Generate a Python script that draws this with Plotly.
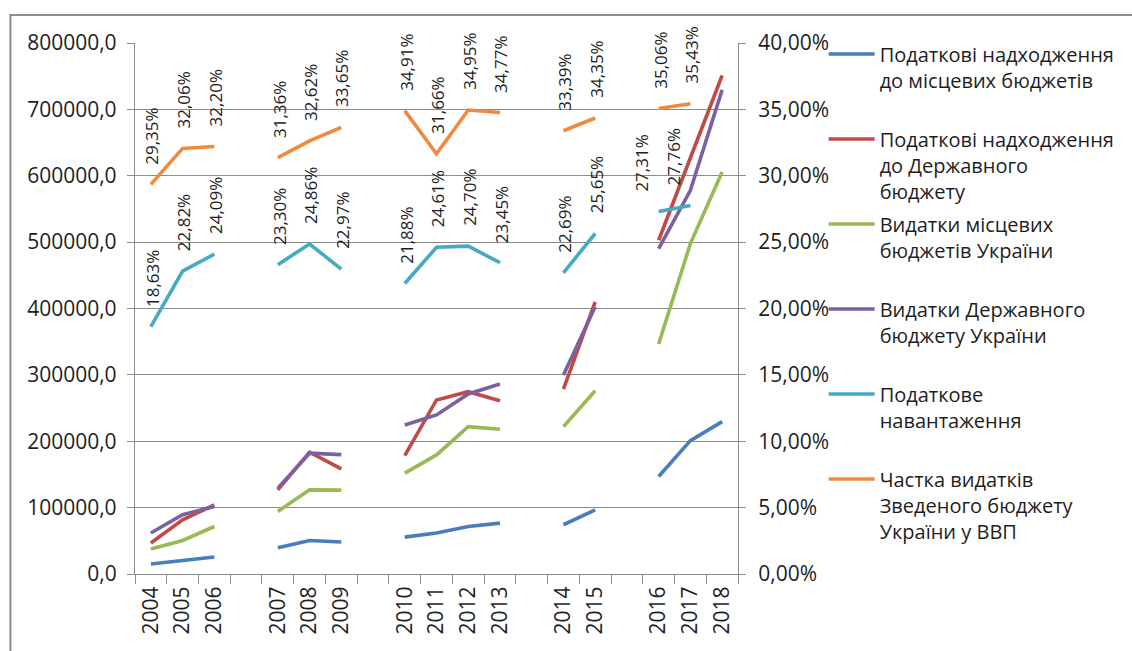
import plotly.graph_objects as go

# Year labels along the x axis; empty slots separate the periods
years = ["2004", "2005", "2006", "", "2007", "2008", "2009", "",
         "2010", "2011", "2012", "2013", "", "2014", "2015", "",
         "2016", "2017", "2018"]

# Left axis series (млн грн)
tax_local = [15000, 20400, 25600, None, 39600, 50500, 48100, None,
             55600, 61700, 71600, 76700, None, 74200, 96700, None,
             146800, 201000, 229500]
tax_state = [46600, 81700, 104200, None, 126800, 183500, 158400, None,
             178400, 262200, 274700, 261100, None, 278700, 410000, None,
             502800, 627000, 751000]
exp_local = [37600, 50500, 71600, None, 94200, 126800, 126300, None,
             151900, 179400, 222000, 218100, None, 222000, 276100, None,
             346400, 497800, 605500]
exp_state = [61700, 89200, 101700, None, 129400, 182000, 179900, None,
             224600, 239600, 271200, 286200, None, 299800, 402500, None,
             490300, 578000, 729400]

# Right axis series (%)
tax_burden = [18.63, 22.82, 24.09, None, 23.30, 24.86, 22.97, None,
              21.88, 24.61, 24.70, 23.45, None, 22.69, 25.65, None,
              27.31, 27.76, None]
exp_gdp = [29.35, 32.06, 32.20, None, 31.36, 32.62, 33.65, None,
           34.91, 31.66, 34.95, 34.77, None, 33.39, 34.35, None,
           35.06, 35.43, None]

left_ticks = [0, 100000, 200000, 300000, 400000, 500000, 600000, 700000, 800000]
left_ticktext = ["0,0", "100000,0", "200000,0", "300000,0", "400000,0",
                 "500000,0", "600000,0", "700000,0", "800000,0"]
right_ticks = [0, 5, 10, 15, 20, 25, 30, 35, 40]
right_ticktext = ["0,00%", "5,00%", "10,00%", "15,00%", "20,00%",
                  "25,00%", "30,00%", "35,00%", "40,00%"]

names = [
    "Податкові надходження<br>до місцевих бюджетів<br> ",
    "Податкові надходження<br>до Державного<br>бюджету",
    "Видатки місцевих<br>бюджетів України<br> ",
    "Видатки Державного<br>бюджету України<br> ",
    "Податкове<br>навантаження<br> ",
    "Частка видатків<br>Зведеного бюджету<br>України у ВВП",
]
colors = ["#4A7EBB", "#BE4B48", "#98B954", "#7D60A0", "#46AAC5", "#F08A3E"]

FONT = "Open Sans, Noto Sans, sans-serif"
TEXT = "#1e1e1e"
GRID = "#8c8c8c"

slots = list(range(len(years)))
label_pos = [i for i, y in enumerate(years) if y]
label_txt = [years[i] for i in label_pos]

fig = go.Figure()
series = [(tax_local, "y"), (tax_state, "y"), (exp_local, "y"),
          (exp_state, "y"), (tax_burden, "y2"), (exp_gdp, "y2")]
for i, (vals, ax) in enumerate(series):
    fig.add_trace(go.Scatter(
        x=slots, y=vals, yaxis=ax, name=names[i], mode="lines",
        connectgaps=False, legendgroup=f"g{i}",
        line=dict(color=colors[i], width=3.6),
    ))

# Percentage labels above the right-axis series
label_xshift = {(4, 16): -17, (4, 17): -16}
annotations = []
for si, vals in ((4, tax_burden), (5, exp_gdp)):
    for j, v in enumerate(vals):
        if v is None:
            continue
        annotations.append(dict(
            x=slots[j], y=v, xref="x", yref="y2",
            text=f"{v:.2f}%".replace(".", ","),
            textangle=-90, showarrow=False,
            xanchor="center", yanchor="bottom",
            yshift=18, xshift=label_xshift.get((si, j), 1),
            font=dict(family=FONT, size=17, color=TEXT),
        ))

fig.update_layout(
    width=1132, height=651,
    margin=dict(l=135, r=392, t=43, b=77),
    paper_bgcolor="white", plot_bgcolor="white",
    font=dict(family=FONT, color=TEXT),
    showlegend=True,
    legend=dict(
        x=1.142, y=1.016, xanchor="left", yanchor="top",
        font=dict(family=FONT, size=20, color=TEXT),
        valign="top", tracegroupgap=4, itemwidth=46,
        bgcolor="rgba(0,0,0,0)", maxheight=640,
    ),
    xaxis=dict(
        range=[-0.5, len(years) - 0.5],
        tickmode="array", tickvals=label_pos, ticktext=label_txt,
        ticks="", tickangle=-90, ticklabelstandoff=3, automargin=False,
        minor=dict(tickmode="linear", tick0=-0.5, dtick=1,
                   ticks="outside", ticklen=9, tickcolor=GRID,
                   tickwidth=1.3, showgrid=False),
        showline=True, linecolor=GRID, linewidth=1.3,
        showgrid=False, zeroline=False,
        tickfont=dict(family=FONT, size=21, color=TEXT),
    ),
    yaxis=dict(
        range=[0, 800000], tickvals=left_ticks, ticktext=left_ticktext,
        ticks="outside", ticklen=7, tickcolor=GRID, tickwidth=1.3,
        ticklabelstandoff=6, automargin=False,
        showline=True, linecolor=GRID, linewidth=1.3,
        showgrid=True, gridcolor=GRID, gridwidth=1.3, zeroline=False,
        tickfont=dict(family=FONT, size=21, color=TEXT),
    ),
    yaxis2=dict(
        overlaying="y", side="right", range=[0, 40],
        tickvals=right_ticks, ticktext=right_ticktext,
        ticks="outside", ticklen=7, tickcolor=GRID, tickwidth=1.3,
        ticklabelstandoff=8, automargin=False,
        showline=True, linecolor=GRID, linewidth=1.3,
        showgrid=False, zeroline=False,
        tickfont=dict(family=FONT, size=21, color=TEXT),
    ),
    annotations=annotations,
    shapes=[dict(
        type="rect", xref="paper", yref="paper",
        x0=-0.2066, y0=-0.5, x1=2.0, y1=1.0527,
        line=dict(color="#8c8c8c", width=2), layer="below",
    )],
)

fig.write_html("out.html")
